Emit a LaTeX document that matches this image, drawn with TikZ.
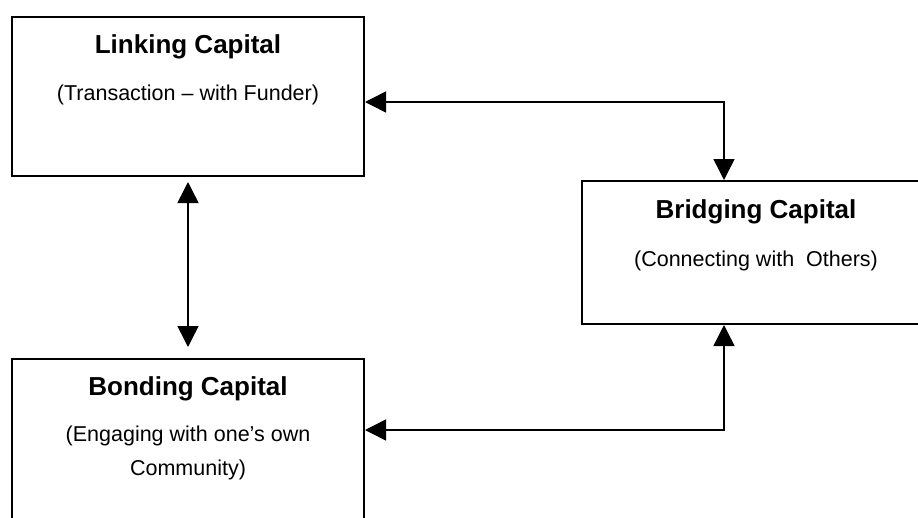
\documentclass[tikz,border=0pt]{standalone}
\usepackage{fontspec}
\setmainfont{Liberation Sans}
\usetikzlibrary{arrows.meta,positioning,calc}
\tikzset{
  capbox/.style={
    rectangle, draw=black, line width=2pt,
    inner sep=0pt, anchor=north west
  },
  captitle/.style={
    anchor=base, inner sep=0pt,
    font=\fontsize{26}{30}\selectfont\bfseries
  },
  capnote/.style={
    anchor=base, inner sep=0pt, align=center,
    font=\fontsize{21.5}{34}\selectfont
  },
  arr/.style={<->, >={Triangle[length=21pt,width=21pt]}, line width=1.5pt},
}
\begin{document}
\begin{tikzpicture}

  \clip (0,0) rectangle (918pt,-517pt);

  \node[capbox, minimum width=352pt, minimum height=159pt]
    (link) at (11pt,-16pt) {};
  \node[capbox, minimum width=348pt, minimum height=143pt]
    (bridge) at (581pt,-180pt) {};
  \node[capbox, minimum width=352pt, minimum height=162pt]
    (bond) at (11pt,-358pt) {};

  \node[captitle] (linkt) at ([yshift=-37.5pt]link.north) {Linking Capital};
  \node[capnote] (linkn) at ([yshift=-47pt]linkt.base)
    {(Transaction -- with Funder)};

  \node[captitle] (bridget) at ([yshift=-38pt]bridge.north) {Bridging Capital};
  \node[capnote] (bridgen) at ([yshift=-48pt]bridget.base)
    {(Connecting with~ Others)};

  \node[captitle] (bondt) at ([yshift=-37pt]bond.north) {Bonding Capital};
  % base of a two-line node sits on its last line
  \node[capnote] (bondn) at ([yshift=-80pt]bondt.base)
    {(Engaging with one's own\\Community)};

  % Arrows
  \draw[arr] ([yshift=-86pt]link.north east) -| ([xshift=-32pt]bridge.north);
  \draw[arr] ([yshift=-72pt]bond.north east) -| ([xshift=-32pt]bridge.south);
  \draw[arr, shorten <=5pt, shorten >=11pt] (link.south) -- (bond.north);

\end{tikzpicture}
\end{document}
